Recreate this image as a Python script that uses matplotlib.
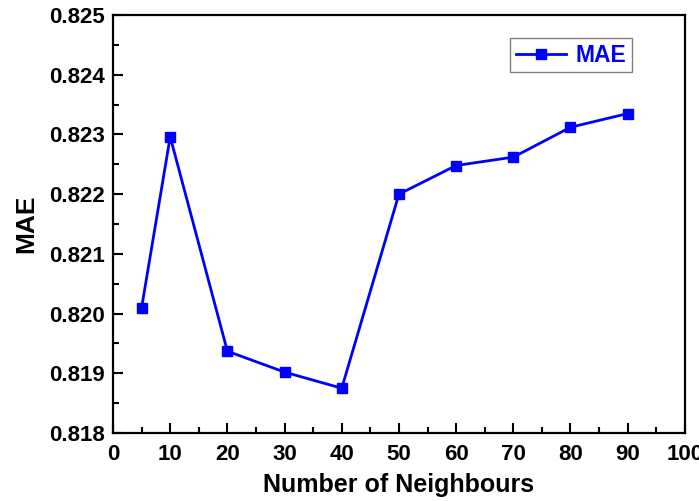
import matplotlib.pyplot as plt
from matplotlib.ticker import MultipleLocator

# Dati
neighbours = [5, 10, 20, 30, 40, 50, 60, 70, 80, 90]
mae = [0.82010, 0.82296, 0.81937, 0.81902, 0.81875, 0.82200, 0.82248, 0.82262, 0.82312, 0.82335]

plt.rcParams['font.family'] = ['Liberation Sans', 'DejaVu Sans']
plt.rcParams['font.weight'] = 'bold'

fig = plt.figure(figsize=(6.99, 5.01), dpi=100)
ax = fig.add_axes([0.1617, 0.1357, 0.818, 0.8343])

ax.plot(neighbours, mae, color='#0000ff', marker='s', markersize=6.5,
        linewidth=2, label='MAE')

ax.set_xlim(0, 100)
ax.set_ylim(0.818, 0.825)
ax.xaxis.set_major_locator(MultipleLocator(10))
ax.xaxis.set_minor_locator(MultipleLocator(5))
ax.yaxis.set_major_locator(MultipleLocator(0.001))
ax.yaxis.set_minor_locator(MultipleLocator(0.0005))
ax.yaxis.set_major_formatter(plt.FormatStrFormatter('%.3f'))

ax.tick_params(which='major', direction='in', length=7.5, width=1.5,
               labelsize=16, pad=6)
ax.tick_params(which='minor', direction='in', length=4, width=1.5)
ax.tick_params(axis='x', which='major', pad=8)
for lab in ax.get_xticklabels() + ax.get_yticklabels():
    lab.set_fontweight('bold')
for s in ax.spines.values():
    s.set_linewidth(1.6)

ax.set_xlabel('Number of Neighbours', fontsize=18, fontweight='bold', labelpad=6)
ax.set_ylabel('MAE', fontsize=19, fontweight='bold', labelpad=8)

leg = ax.legend(loc='upper right', bbox_to_anchor=(0.907, 0.945), borderaxespad=0,
                fancybox=False, edgecolor='gray', fontsize=16.5, handlelength=2.2,
                handletextpad=0.4, borderpad=0.25, framealpha=1)
for t in leg.get_texts():
    t.set_color('#0000ff')
    t.set_fontweight('bold')
leg.get_frame().set_linewidth(1)

plt.savefig('out.png', dpi=100)
